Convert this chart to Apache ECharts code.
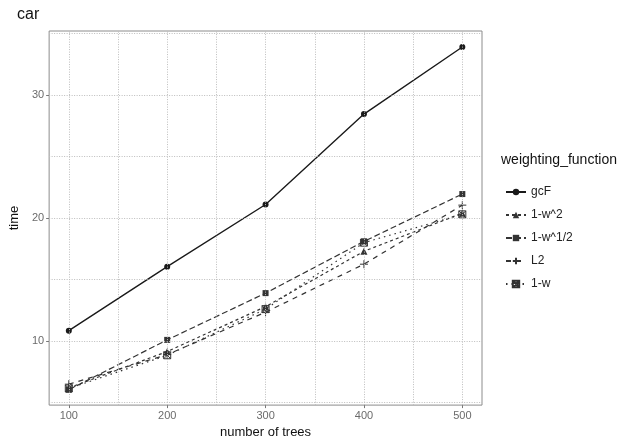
<!DOCTYPE html>
<html>
<head>
<meta charset="utf-8">
<script src="https://cdn.jsdelivr.net/npm/echarts@6/dist/echarts.min.js"></script>
<style>
  html, body { margin: 0; padding: 0; background: #fff; }
  #main { width: 623px; height: 444px; }
</style>
</head>
<body>
<div id="main"></div>
<script>
// data
var trees = [100, 200, 300, 400, 500];
var gcF    = [10.85, 16.05, 21.1, 28.45, 33.9];
var w2     = [6.2, 9.15, 12.8, 17.3, 20.4];
var wHalf  = [6.05, 10.1, 13.9, 18.1, 21.95];
var L2     = [6.5, 8.9, 12.35, 16.25, 21.05];
var w1     = [6.15, 8.85, 12.6, 18.0, 20.3];
var xTicks = [100, 200, 300, 400, 500];
var yTicks = [10, 20, 30];
var xGrid  = [100, 150, 200, 250, 300, 350, 400, 450, 500];
var yGrid  = [5, 10, 15, 20, 25, 30, 35];

function pairs(ys) {
  var out = [];
  for (var i = 0; i < trees.length; i++) out.push([trees[i], ys[i]]);
  return out;
}

var myChart = echarts.init(document.getElementById('main'));

var gridCol = '#bdbdbd';
var ink = '#1a1a1a';
var ink2 = '#333333';

var gridLines = [];
for (var i = 0; i < xGrid.length; i++) gridLines.push({ xAxis: xGrid[i] });
for (var j = 0; j < yGrid.length; j++) gridLines.push({ yAxis: yGrid[j] });

function mk(name, ys, symbol, size, dash, col, fill, w) {
  return {
    name: name,
    type: 'line',
    data: pairs(ys),
    symbol: symbol,
    symbolSize: size,
    showSymbol: true,
    z: 3,
    lineStyle: { color: col, width: w, type: dash },
    itemStyle: fill === 'none'
      ? { color: 'rgba(0,0,0,0)', borderColor: col, borderWidth: 1 }
      : { color: col, borderWidth: 0 },
    emphasis: { disabled: true }
  };
}

var series = [
  {
    name: 'grid',
    type: 'line',
    data: [],
    silent: true,
    z: 1,
    markLine: {
      silent: true,
      symbol: ['none', 'none'],
      label: { show: false },
      animation: false,
      lineStyle: { color: gridCol, type: [1, 1.5], width: 1 },
      data: gridLines
    }
  },
  mk('gcF', gcF, 'circle', 6, 'solid', ink, 'fill', 1.4),
  mk('1-w^2', w2, 'triangle', 7, [3, 3], ink2, 'fill', 1.2),
  mk('1-w^1/2', wHalf, 'rect', 6, [6, 3], ink2, 'fill', 1.2),
  mk('L2', L2, 'path://M5,0V10M0,5H10', 8, [5, 5], ink2, 'none', 1.2),
  mk('1-w', w1, 'path://M0,0H10V10H0ZM0,0L10,10M10,0L0,10', 7, [1.5, 4], ink2, 'none', 1.2)
];

var option = {
  backgroundColor: '#ffffff',
  animation: false,
  textStyle: { fontFamily: 'Liberation Sans, Arial, sans-serif' },
  title: [
    { text: 'car', left: 12, top: 2,
      textStyle: { fontSize: 16, fontWeight: 'normal', color: '#111' } },
    { text: 'weighting_function', left: 496, top: 148,
      textStyle: { fontSize: 14, fontWeight: 'normal', color: '#111' } }
  ],
  legend: {
    orient: 'vertical',
    left: 500,
    top: 181,
    itemWidth: 20,
    itemHeight: 8,
    itemGap: 11,
    data: ['gcF', '1-w^2', '1-w^1/2', 'L2', '1-w'],
    textStyle: { fontSize: 12, color: '#222' }
  },
  grid: {
    left: 45, right: 141, top: 31, bottom: 38,
    show: true, borderColor: '#8c8c8c', borderWidth: 1,
    containLabel: false
  },
  xAxis: {
    type: 'value',
    min: 80, max: 520,
    name: 'number of trees',
    nameLocation: 'middle',
    nameGap: 20,
    nameTextStyle: { fontSize: 13, color: '#111' },
    axisLine: { show: false },
    axisTick: { show: true, length: 3, customValues: xTicks,
      lineStyle: { color: '#777' } },
    axisLabel: { customValues: xTicks, fontSize: 11, color: '#6b6b6b', margin: 5 },
    splitLine: { show: false }
  },
  yAxis: {
    type: 'value',
    min: 4.8, max: 35.2,
    name: 'time',
    nameLocation: 'middle',
    nameGap: 27,
    nameTextStyle: { fontSize: 13, color: '#111' },
    axisLine: { show: false },
    axisTick: { show: true, length: 3, customValues: yTicks,
      lineStyle: { color: '#777' } },
    axisLabel: { customValues: yTicks, fontSize: 11, color: '#6b6b6b', margin: 5 },
    splitLine: { show: false }
  },
  series: series
};

myChart.setOption(option);
</script>
</body>
</html>
